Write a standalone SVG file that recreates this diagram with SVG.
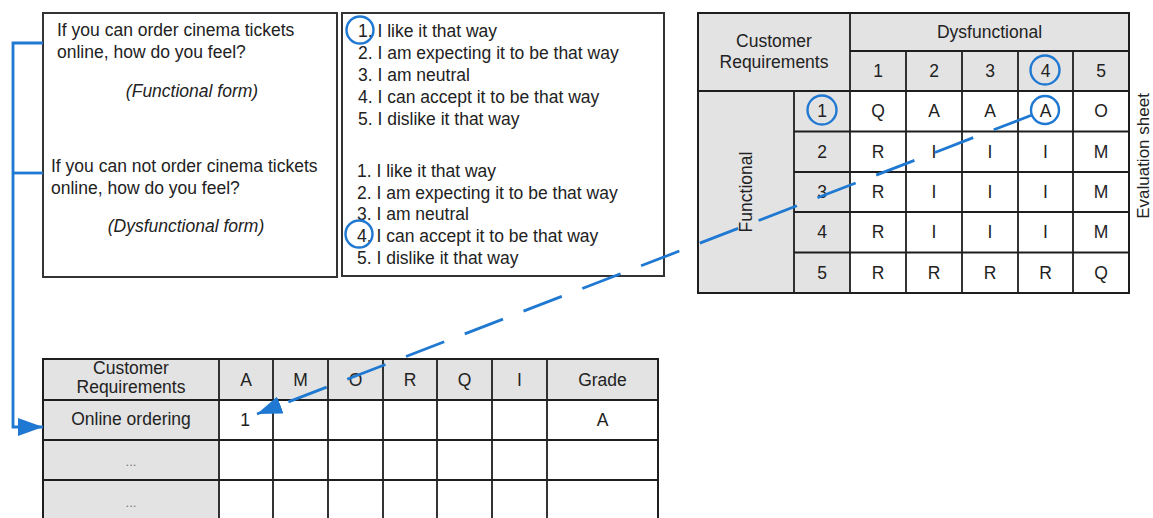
<svg xmlns="http://www.w3.org/2000/svg" width="1153" height="518" viewBox="0 0 1153 518">
<defs>
<style>
text{font-family:"Liberation Sans",Arial,sans-serif;font-size:17.5px;fill:#222}
.c{text-anchor:middle}
.i{font-style:italic}
.dots{font-size:13px;fill:#777;text-anchor:middle}
.box{fill:#fff;stroke:#333;stroke-width:2}
.grey{fill:#e3e3e3;stroke:none}
.white{fill:#fff;stroke:none}
.grid{stroke:#1e1e1e;stroke-width:1.8;fill:none}
.outer{stroke:#1e1e1e;stroke-width:2;fill:none}
.ring{fill:none;stroke:#1f78d1;stroke-width:2.4}
.link{fill:none;stroke:#1f78d1;stroke-width:2.8}
.dash{stroke-dasharray:41 22}
</style>
<marker id="ah" markerUnits="userSpaceOnUse" markerWidth="26" markerHeight="18" viewBox="0 0 26 18" refX="25" refY="9" orient="auto">
<path d="M0,0 L25,9 L0,18 z" fill="#1f78d1"/>
</marker>
</defs>
<rect width="1153" height="518" fill="#fff"/>

<g id="question-box">
<rect class="box" x="43" y="13" width="294" height="264"/>
<text x="57" y="36">If you can order cinema tickets</text>
<text x="57" y="58">online, how do you feel?</text>
<text x="192" y="97" class="c i">(Functional form)</text>
<text x="51" y="172">If you can not order cinema tickets</text>
<text x="51" y="194">online, how do you feel?</text>
<text x="186" y="232" class="c i">(Dysfunctional form)</text>
</g>

<g id="answer-box">
<rect class="box" x="342" y="13" width="322" height="263"/>
<text x="358" y="37">1. I like it that way</text>
<text x="358" y="59">2. I am expecting it to be that way</text>
<text x="358" y="81">3. I am neutral</text>
<text x="358" y="103">4. I can accept it to be that way</text>
<text x="358" y="125">5. I dislike it that way</text>
<text x="357" y="177">1. I like it that way</text>
<text x="357" y="199">2. I am expecting it to be that way</text>
<text x="357" y="220">3. I am neutral</text>
<text x="357" y="242">4. I can accept it to be that way</text>
<text x="357" y="264">5. I dislike it that way</text>
<circle class="ring" cx="360" cy="30" r="13.5"/>
<circle class="ring" cx="359" cy="234" r="13.5"/>
</g>

<g id="evaluation-sheet">
<rect class="grey" x="698" y="13" width="431" height="78"/>
<rect class="grey" x="698" y="91" width="152" height="202"/>
<rect class="white" x="850" y="91" width="279" height="202"/>
<path class="grid" d="M850,51 H1129 M698,91 H1129 M794,131.5 H1129 M794,172 H1129 M794,212 H1129 M794,252.5 H1129 M850,13 V293 M794,91 V293 M906,51 V293 M962,51 V293 M1018,51 V293 M1073,51 V293"/>
<rect class="outer" x="698" y="13" width="431" height="280"/>
<text x="774" y="47" class="c">Customer</text>
<text x="774" y="68" class="c">Requirements</text>
<text x="989.5" y="38" class="c">Dysfunctional</text>
<text x="878" y="77" class="c">1</text>
<text x="934" y="77" class="c">2</text>
<text x="990" y="77" class="c">3</text>
<text x="1045.5" y="77" class="c">4</text>
<text x="1101" y="77" class="c">5</text>
<text class="c" transform="translate(752,192) rotate(-90)">Functional</text>
<text x="822" y="117" class="c">1</text>
<text x="822" y="158" class="c">2</text>
<text x="822" y="198" class="c">3</text>
<text x="822" y="238" class="c">4</text>
<text x="822" y="279" class="c">5</text>
<text x="878" y="117" class="c">Q</text><text x="934" y="117" class="c">A</text><text x="990" y="117" class="c">A</text><text x="1045.5" y="117" class="c">A</text><text x="1101" y="117" class="c">O</text>
<text x="878" y="158" class="c">R</text><text x="934" y="158" class="c">I</text><text x="990" y="158" class="c">I</text><text x="1045.5" y="158" class="c">I</text><text x="1101" y="158" class="c">M</text>
<text x="878" y="198" class="c">R</text><text x="934" y="198" class="c">I</text><text x="990" y="198" class="c">I</text><text x="1045.5" y="198" class="c">I</text><text x="1101" y="198" class="c">M</text>
<text x="878" y="238" class="c">R</text><text x="934" y="238" class="c">I</text><text x="990" y="238" class="c">I</text><text x="1045.5" y="238" class="c">I</text><text x="1101" y="238" class="c">M</text>
<text x="878" y="279" class="c">R</text><text x="934" y="279" class="c">R</text><text x="990" y="279" class="c">R</text><text x="1045.5" y="279" class="c">R</text><text x="1101" y="279" class="c">Q</text>
<circle class="ring" cx="1045" cy="70" r="14.5"/>
<circle class="ring" cx="822" cy="110" r="14.5"/>
<circle class="ring" cx="1045" cy="110" r="14"/>
<text class="c" style="font-size:17px" transform="translate(1148.5,156) rotate(-90)">Evaluation sheet</text>
</g>

<g id="result-table">
<rect class="grey" x="43" y="359" width="615" height="41"/>
<rect class="grey" x="43" y="400" width="176" height="122"/>
<rect class="white" x="219" y="400" width="439" height="122"/>
<path class="grid" d="M43,400 H658 M43,440 H658 M43,480 H658 M219,359 V522 M273,359 V522 M328,359 V522 M383,359 V522 M437,359 V522 M492,359 V522 M547,359 V522"/>
<rect class="outer" x="43" y="359" width="615" height="163"/>
<text x="131" y="374" class="c">Customer</text>
<text x="131" y="393" class="c">Requirements</text>
<text x="246" y="386" class="c">A</text>
<text x="300.5" y="386" class="c">M</text>
<text x="355.5" y="386" class="c">O</text>
<text x="410" y="386" class="c">R</text>
<text x="464.5" y="386" class="c">Q</text>
<text x="519.5" y="386" class="c">I</text>
<text x="602.5" y="386" class="c">Grade</text>
<text x="131" y="425" class="c">Online ordering</text>
<text x="245" y="426" class="c">1</text>
<text x="602.5" y="426" class="c">A</text>
<text x="131" y="466" class="dots">...</text>
<text x="131" y="507" class="dots">...</text>
</g>

<g id="connectors">
<path class="link" d="M43,43 H13 V427 H43" marker-end="url(#ah)"/>
<path class="link" d="M13,173 H43"/>
<path class="link dash" d="M1032,115 L257,414" marker-end="url(#ah)"/>
</g>
</svg>
